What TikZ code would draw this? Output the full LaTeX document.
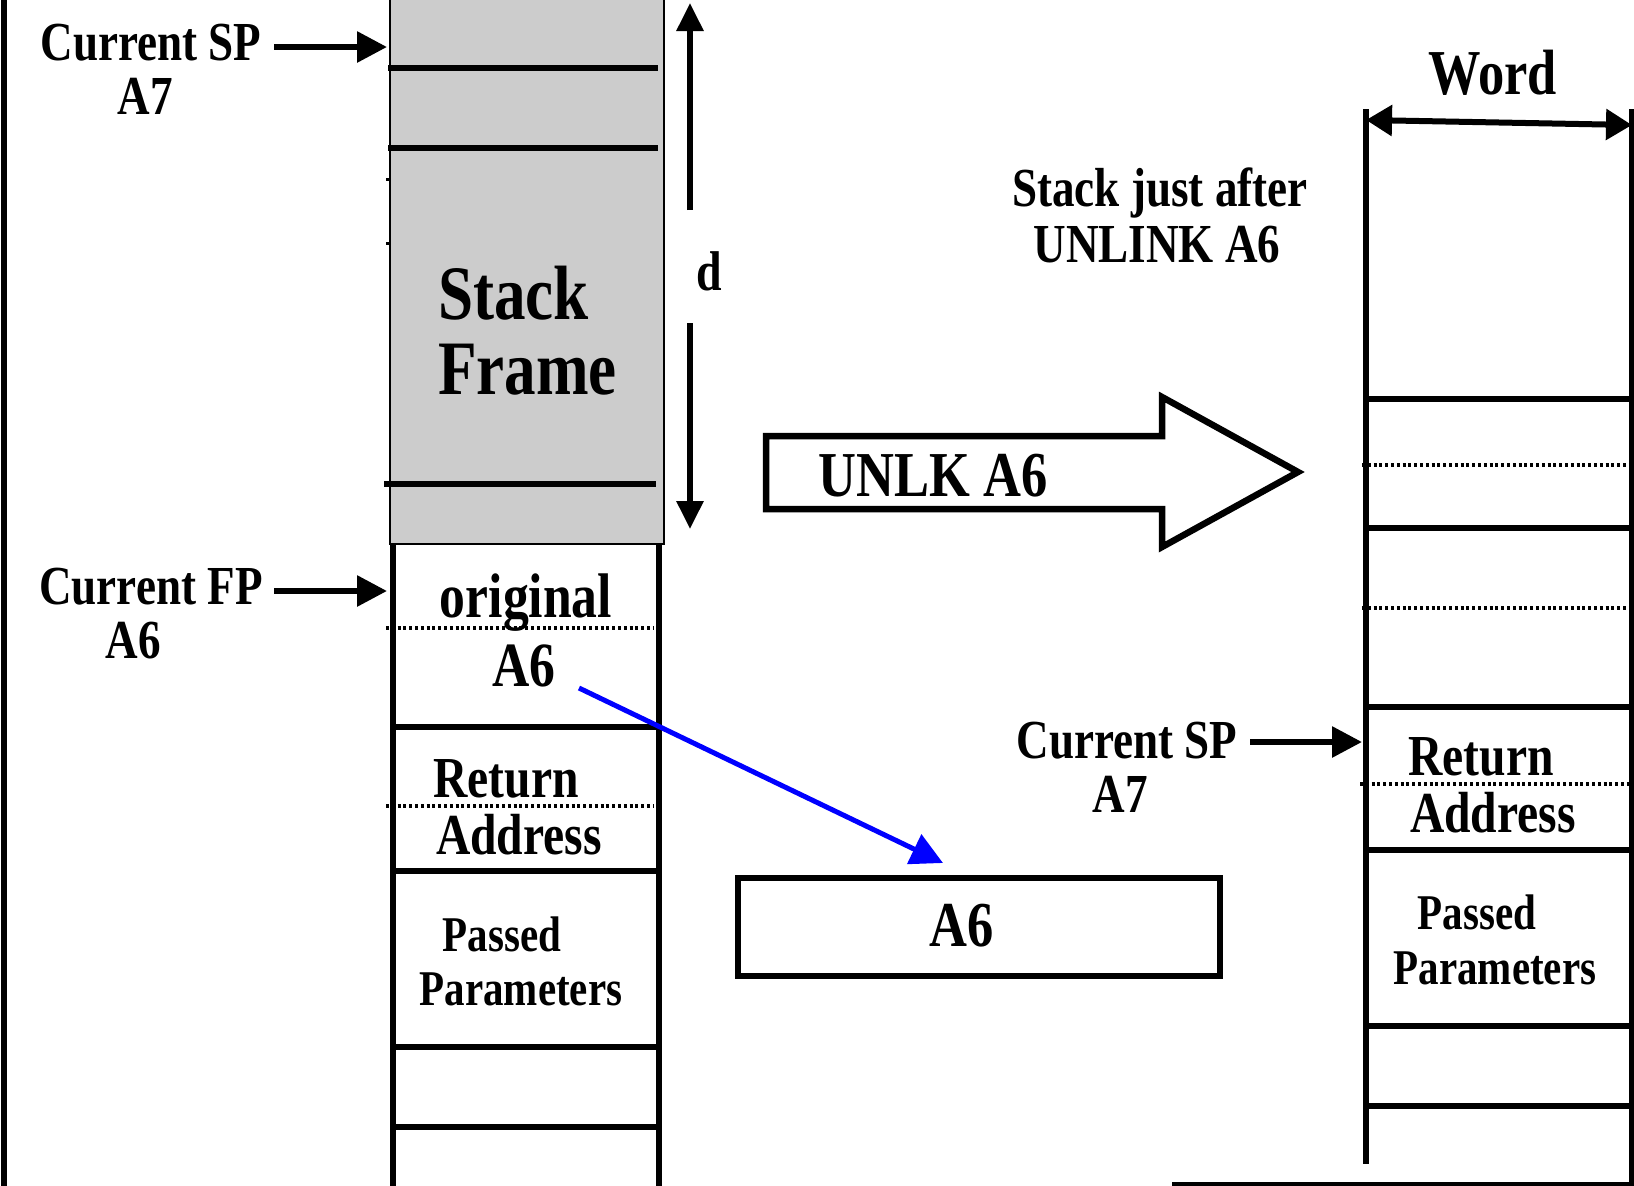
\documentclass[tikz,border=0pt]{standalone}
\usepackage{fontspec}
\newfontfamily\lbl{Liberation Serif}[FakeStretch=0.82]
\usetikzlibrary{arrows.meta}
\definecolor{framegray}{RGB}{204,204,204}
\newcommand\fsz[1]{\fontsize{#1}{#1}\selectfont}

\begin{document}
\begin{tikzpicture}[x=1pt,y=-1pt,
  lab/.style={inner sep=0pt, anchor=base, font={\lbl\bfseries\fsz{#1}}},
  rule/.style={line width=6pt},
  dotrule/.style={line width=3.4pt, dash pattern=on 3pt off 2.8pt},
  ptr/.style={line width=6pt, -{Triangle[length=30pt,width=30pt]}},
  span/.style={line width=6pt, -{Triangle[length=28pt,width=26pt]}}]

\useasboundingbox (0,0) rectangle (1634,1186);

% outer left border
\draw[rule] (4,-10) -- (4,1196);

% ---------- stack before UNLK ----------
% shaded stack frame
\draw[line width=2pt, fill=framegray] (390,-10) rectangle (664,544);
\draw[rule] (388,68) -- (658,68);
\draw[rule] (388,148) -- (658,148);
\draw[rule] (384,484) -- (656,484);
\draw[line width=3pt] (386,179) -- (391,179);
\draw[line width=3pt] (386,243) -- (391,243);
\node[lab=77, anchor=base west] (stk) at (438,319) {Stack};
\node[lab=77, anchor=base west] (frm) at (438,394) {Frame};

% cells below the frame
\draw[rule] (393,544) -- (393,1196);
\draw[rule] (659,544) -- (659,1196);
\draw[rule] (390,727) -- (659,727);
\draw[rule] (390,871) -- (659,871);
\draw[rule] (390,1047) -- (659,1047);
\draw[rule] (390,1127) -- (659,1127);
\draw[dotrule] (386,628) -- (654,628);
\draw[dotrule] (386,806) -- (654,806);

\node[lab=63] (orig) at (526,617) {original};
\node[lab=63] (origa) at (524,686) {A6};
\node[lab=58] (ret) at (506,797) {Return};
\node[lab=58] (adr) at (519,854) {Address};
\node[lab=50] (pas) at (502,951) {Passed};
\node[lab=50] (par) at (521,1005) {Parameters};

% pointer labels
\node[lab=55] (sp) at (151,60) {Current SP};
\node[lab=55] (spr) at (145,114) {A7};
\node[lab=55] (fp) at (151,604) {Current FP};
\node[lab=55] (fpr) at (133,658) {A6};
\coordinate (spfrom) at (274,47);
\coordinate (spto) at (387,47);
\coordinate (fpfrom) at (274,591);
\coordinate (fpto) at (387,591);
\draw[ptr] (spfrom) -- (spto);
\draw[ptr] (fpfrom) -- (fpto);

% frame size d
\node[lab=56] (dlab) at (709,290) {d};
\coordinate (dtop) at (690,3);
\coordinate (dbot) at (690,529);
\coordinate (dgapt) at (690,210);
\coordinate (dgapb) at (690,323);
\draw[span] (dgapt) -- (dtop);
\draw[span] (dgapb) -- (dbot);

% ---------- UNLK instruction ----------
\draw[line width=6.5pt, line join=miter, miter limit=20]
  (766,436) -- (1162,436) -- (1162,397) -- (1298,472) -- (1162,547) -- (1162,509) -- (766,509) -- cycle;
\node[lab=64] (unlk) at (933,496) {UNLK A6};

% restored A6 register
\node[draw, line width=6pt, minimum width=482pt, minimum height=98pt, inner sep=0pt] (reg) at (979,927) {};
\node[lab=64] (regtxt) at (962,946) {A6};
\coordinate (blfrom) at (579,688);
\coordinate (blto) at (943,863);
\draw[line width=5pt, blue, -{Triangle[length=32pt,width=32pt]}] (blfrom) -- (blto);

% ---------- stack after UNLK ----------
\node[lab=55] (cap1) at (1160,206) {Stack just after};
\node[lab=55] (cap2) at (1157,262) {UNLINK A6};
\node[lab=64] (word) at (1493,94) {Word};
\coordinate (wl) at (1366,120);
\coordinate (wr) at (1632,125);
\draw[line width=6pt, {Triangle[length=26pt,width=30pt]}-{Triangle[length=26pt,width=30pt]}] (wl) -- (wr);

\draw[rule] (1366,109) -- (1366,1164);
\draw[rule] (1632,109) -- (1632,1196);
\draw[rule] (1364,399) -- (1634,399);
\draw[rule] (1364,528) -- (1634,528);
\draw[rule] (1364,707) -- (1634,707);
\draw[rule] (1364,850) -- (1634,850);
\draw[rule] (1364,1026) -- (1634,1026);
\draw[rule] (1364,1106) -- (1634,1106);
\draw[dotrule] (1362,465) -- (1630,465);
\draw[dotrule] (1362,608) -- (1630,608);
\draw[dotrule] (1360,784) -- (1630,784);

\node[lab=55] (sp2) at (1127,758) {Current SP};
\node[lab=55] (sp2r) at (1120,812) {A7};
\coordinate (sp2from) at (1250,742);
\coordinate (sp2to) at (1362,742);
\draw[ptr] (sp2from) -- (sp2to);

\node[lab=58] (ret2) at (1481,775) {Return};
\node[lab=58] (adr2) at (1493,832) {Address};
\node[lab=50] (pas2) at (1477,929) {Passed};
\node[lab=50] (par2) at (1495,984) {Parameters};

\coordinate (bl) at (1172,1184);
\coordinate (br) at (1640,1184);
\draw[line width=4pt] (bl) -- (br);
\end{tikzpicture}
\end{document}
